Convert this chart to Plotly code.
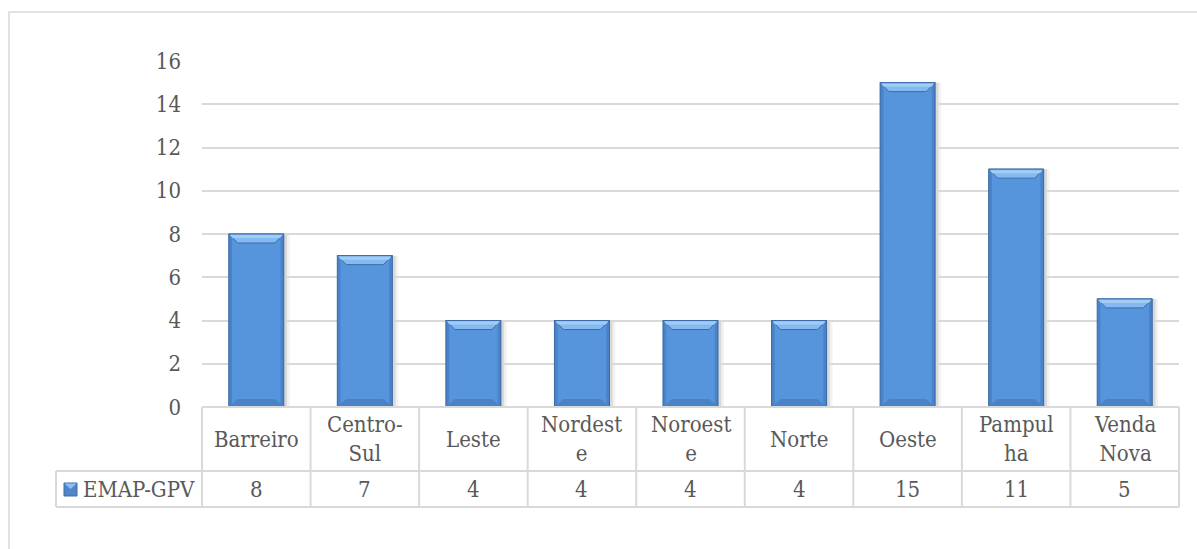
import plotly.graph_objects as go

# --- data -------------------------------------------------------------
categories = ["Barreiro", "Centro-Sul", "Leste", "Nordeste", "Noroeste",
              "Norte", "Oeste", "Pampulha", "Venda Nova"]
header_labels = ["Barreiro", "Centro-<br>Sul", "Leste", "Nordest<br>e",
                 "Noroest<br>e", "Norte", "Oeste", "Pampul<br>ha", "Venda<br>Nova"]
series_name = "EMAP-GPV"
values = [8, 7, 4, 4, 4, 4, 15, 11, 5]
y_ticks = [0, 2, 4, 6, 8, 10, 12, 14, 16]

# --- layout geometry (pixels) -----------------------------------------
W, H = 1197, 549
M_L, M_R, M_T, M_B = 202, 18, 61, 142
PLOT_W = W - M_L - M_R
PLOT_H = H - M_T - M_B

FONT = "DejaVu Serif Condensed, DejaVu Serif, serif"
TXT = "#595959"
GRID = "#D9D9D9"

BAR_MAIN = "#5694DC"
BAR_EDGE = "#3C6DA8"
BEVEL_TOP = "#84BAF0"
BEVEL_TOP2 = "#A2CCF6"
BEVEL_BOT = "#4A82C6"


def px_x(px):
    return (px - M_L) / PLOT_W


def px_y(py):
    return (H - M_B - py) / PLOT_H


n = len(categories)
xs = list(range(n))
bar_w = 0.507
half = bar_w / 2
unit_px = PLOT_W / n
inset = 9 / unit_px

fig = go.Figure()
fig.add_trace(go.Bar(
    x=xs, y=values, width=bar_w, name=series_name,
    marker=dict(color=BAR_MAIN, line=dict(color=BAR_EDGE, width=1)),
    hovertext=categories, showlegend=False,
))

shapes = []

# soft shadow behind each bar
for i, v in zip(xs, values):
    for dx, op in ((0.055, 0.05), (0.03, 0.10)):
        shapes.append(dict(type="rect", xref="x", yref="y", layer="below",
                           x0=i - half + 0.01, x1=i + half + dx, y0=0, y1=v,
                           fillcolor=f"rgba(0,0,0,{op})", line_width=0))

# bevel facets on each bar
for i, v in zip(xs, values):
    x0, x1 = i - half, i + half
    # side darkening
    for sx0, sx1 in ((x0, x0 + 0.03), (x1 - 0.03, x1)):
        shapes.append(dict(type="rect", xref="x", yref="y", layer="above",
                           x0=sx0, x1=sx1, y0=0, y1=v,
                           fillcolor="rgba(40,80,140,0.25)", line_width=0))
    # top facet
    shapes.append(dict(
        type="path", xref="x", yref="y", ysizemode="pixel", yanchor=v,
        path=f"M {x0},0 L {x1},0 L {x1 - inset},-9 L {x0 + inset},-9 Z",
        fillcolor=BEVEL_TOP, line=dict(color=BAR_EDGE, width=1), layer="above"))
    shapes.append(dict(
        type="path", xref="x", yref="y", ysizemode="pixel", yanchor=v,
        path=f"M {x0 + 0.01},-1 L {x1 - 0.01},-1 L {x1 - 0.4 * inset},-4 L {x0 + 0.4 * inset},-4 Z",
        fillcolor=BEVEL_TOP2, line_width=0, layer="above"))
    # bottom facet
    shapes.append(dict(
        type="path", xref="x", yref="y", ysizemode="pixel", yanchor=0,
        path=f"M {x0},0 L {x1},0 L {x1 - inset},8 L {x0 + inset},8 Z",
        fillcolor=BEVEL_BOT, line_width=0, layer="above"))

# outer chart-area border
shapes.append(dict(type="rect", xref="paper", yref="paper",
                   x0=px_x(9), x1=px_x(W + 20), y0=px_y(H + 20), y1=px_y(12),
                   line=dict(color=GRID, width=1.5), fillcolor="rgba(0,0,0,0)"))

# data table grid
row_top, row_mid, row_bot = H - M_B, 471, 507
table_left = 56


def line(xa, ya, xb, yb):
    return dict(type="line", xref="paper", yref="paper",
                x0=xa, y0=ya, x1=xb, y1=yb,
                line=dict(color=GRID, width=2))


shapes.append(line(0, px_y(row_top), 1, px_y(row_top)))
shapes.append(line(px_x(table_left), px_y(row_mid), 1, px_y(row_mid)))
shapes.append(line(px_x(table_left), px_y(row_bot), 1, px_y(row_bot)))
shapes.append(line(px_x(table_left), px_y(row_mid), px_x(table_left), px_y(row_bot)))
for k in range(n + 1):
    shapes.append(line(k / n, px_y(row_top), k / n, px_y(row_bot)))

# legend key glyph
shapes.append(dict(type="rect", xref="paper", yref="paper",
                   x0=px_x(64), x1=px_x(77), y0=px_y(496), y1=px_y(483),
                   fillcolor="#4F86C8", line=dict(color=BAR_EDGE, width=1)))
shapes.append(dict(type="path", xref="paper", yref="paper",
                   path=(f"M {px_x(64.5)},{px_y(483.5)} L {px_x(76.5)},{px_y(483.5)} "
                         f"L {px_x(70.5)},{px_y(489)} Z"),
                   fillcolor="#8CC0F2", line_width=0))

annotations = []
for k, lab in enumerate(header_labels):
    annotations.append(dict(
        x=(k + 0.5) / n, y=px_y((row_top + row_mid) / 2), xref="paper", yref="paper",
        text=lab, showarrow=False, xanchor="center", yanchor="middle",
        font=dict(family=FONT, size=22, color=TXT)))
for k, v in enumerate(values):
    annotations.append(dict(
        x=(k + 0.5) / n, y=px_y((row_mid + row_bot) / 2), xref="paper", yref="paper",
        text=str(v), showarrow=False, xanchor="center", yanchor="middle",
        font=dict(family=FONT, size=22, color=TXT)))
annotations.append(dict(
    x=px_x(81), y=px_y((row_mid + row_bot) / 2), xref="paper", yref="paper",
    text=series_name, showarrow=False, xanchor="left", yanchor="middle",
    font=dict(family=FONT, size=22, color=TXT)))

fig.update_layout(
    width=W, height=H,
    margin=dict(l=M_L, r=M_R, t=M_T, b=M_B, autoexpand=False),
    paper_bgcolor="white", plot_bgcolor="white",
    font=dict(family=FONT, size=22, color=TXT),
    xaxis=dict(range=[-0.5, n - 0.5], showticklabels=False, showgrid=False,
               zeroline=False, showline=False, ticks=""),
    yaxis=dict(range=[0, 16], tickvals=y_ticks, showgrid=True, gridcolor=GRID,
               gridwidth=1.5, zeroline=False, showline=False, ticks="",
               ticklabelstandoff=20, tickfont=dict(family=FONT, size=22, color=TXT)),
    shapes=shapes, annotations=annotations, bargap=0.49,
)

fig.write_html("out.html")
